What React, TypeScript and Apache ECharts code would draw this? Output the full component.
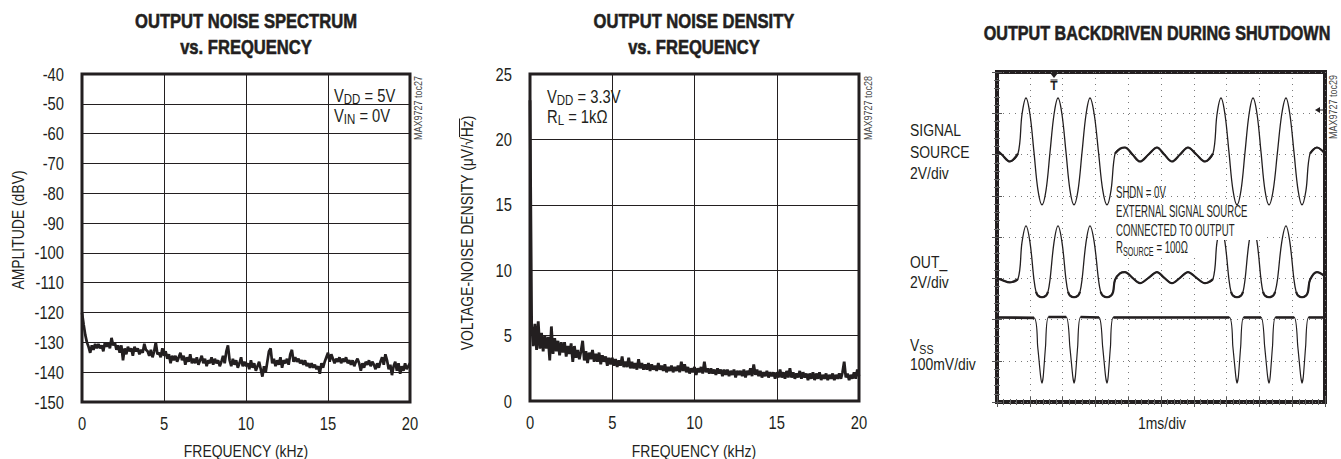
import React, { useEffect, useRef } from "react";
import * as echarts from "echarts";

const FONT = "'Liberation Sans Narrow', 'Arial Narrow', 'Liberation Sans', Arial, sans-serif";
const INK = "#231f20";
const NARROW = 0.82; // horizontal squeeze to imitate a narrow typeface

// ---------- Panel 1: output noise spectrum (dBV vs kHz), 0.1 kHz steps ----------
const spectrumStepKHz = 0.1;
const spectrumDbv = [
  -120, -124, -127.5, -130, -131.5, -133.5, -131, -132.5, -130.5, -132,
  -130.5, -132, -131, -133, -130, -131.5, -130, -132, -128.5, -131,
  -130, -132.5, -131, -133.5, -131, -136, -132, -134, -131.5, -133,
  -132, -134.5, -131.5, -133, -132, -134, -132.5, -133.5, -130.5, -132.5,
  -133, -134.5, -132.5, -135, -133, -130, -134, -133.5, -135, -132,
  -134.5, -133, -135.5, -134, -137, -134.5, -136, -134.5, -136.5, -135,
  -133.5, -136, -134.5, -137.5, -135, -136.5, -134, -137, -135.5, -137,
  -135, -137.5, -136, -134.5, -137, -135.5, -138, -136, -137, -135,
  -137.5, -135.5, -137, -136, -138, -136.5, -134.5, -137, -133, -131,
  -136, -138, -135.5, -137.5, -136, -138.5, -137, -135, -138, -136.5,
  -138, -137, -139, -136, -138.5, -137, -139.5, -138, -136.5, -139,
  -141.5, -138, -140, -136.5, -133, -132, -137, -135.5, -138, -136,
  -137.5, -135, -138.5, -136, -137, -135.5, -137.5, -134, -132.5, -136.5,
  -135, -136.5, -135.5, -137, -136, -137.5, -136, -138, -137, -138.5,
  -137, -138.5, -137.5, -139, -138, -140.5, -137, -138.5, -136.5, -135,
  -133.5, -136.5, -134, -135.5, -137, -135.5, -136.5, -135, -137, -135.5,
  -136.5, -135, -137, -136, -137.5, -136, -138, -136.5, -135.5, -137,
  -139.5, -137, -138.5, -136.5, -137.5, -136, -138, -136.5, -137.5, -139,
  -137, -138.5, -136.5, -135, -137.5, -134, -136, -139, -137.5, -141,
  -138, -136.5, -139.5, -137, -140.5, -138, -139.5, -137, -139, -138,
  -137,
];
const spectrumTicksDbv = [-150, -140, -130, -120, -110, -100, -90, -80, -70, -60, -50, -40];

// ---------- Panel 2: output noise density (uV/rtHz vs kHz), 0.1 kHz steps ----------
const densityStepKHz = 0.1;
const densityUv = [
  23, 5.8, 4.2, 5.9, 3.9, 6.1, 4.0, 5.2, 3.8, 5.0,
  4.0, 4.9, 3.1, 5.7, 3.6, 4.8, 3.8, 4.6, 3.5, 4.5,
  3.7, 4.5, 3.4, 4.2, 3.6, 4.4, 3.0, 4.2, 3.3, 3.9,
  3.2, 3.8, 4.6, 3.1, 3.8, 2.9, 3.7, 3.2, 3.9, 3.0,
  3.6, 3.0, 3.7, 2.8, 3.5, 3.0, 3.4, 2.7, 3.3, 2.8,
  3.3, 2.7, 3.2, 2.6, 3.1, 2.7, 3.4, 2.6, 3.0, 2.6,
  3.3, 2.5, 3.0, 2.5, 2.9, 2.4, 3.2, 2.5, 2.9, 2.4,
  2.8, 2.4, 2.9, 2.3, 2.8, 2.4, 2.7, 2.3, 2.9, 2.4,
  2.7, 2.3, 2.8, 2.2, 2.6, 2.3, 2.7, 2.2, 2.6, 2.3,
  2.7, 2.2, 3.0, 2.3, 2.8, 2.2, 2.6, 2.1, 2.5, 2.2,
  2.6, 2.0, 2.5, 2.2, 2.6, 2.1, 3.0, 2.2, 2.5, 2.1,
  2.5, 2.1, 2.4, 2.0, 2.5, 2.1, 2.4, 1.9, 2.4, 2.0,
  2.4, 1.9, 2.3, 2.0, 2.4, 1.8, 2.3, 2.0, 2.3, 1.9,
  2.4, 1.8, 2.3, 2.0, 2.5, 1.9, 2.8, 2.0, 2.4, 1.9,
  2.3, 1.8, 2.2, 1.9, 2.3, 1.8, 2.2, 1.9, 2.2, 1.7,
  2.2, 1.8, 2.4, 1.8, 2.2, 1.7, 2.3, 1.8, 2.5, 1.8,
  2.2, 1.7, 2.1, 1.8, 2.3, 1.7, 2.2, 1.8, 2.1, 1.6,
  2.1, 1.7, 2.2, 1.6, 2.1, 1.7, 2.2, 1.6, 2.0, 1.7,
  2.1, 1.6, 2.0, 1.7, 2.1, 1.6, 2.0, 1.7, 2.1, 1.7,
  2.2, 3.0, 1.8, 2.1, 1.6, 2.0, 1.7, 2.2, 1.7, 2.4,
  1.9,
];
const densityTicksUv = [0, 5, 10, 15, 20, 25];

const freqTicksKHz = [0, 5, 10, 15, 20];

// ---------- Panel 3: scope traces, [time (ms = div), level (div from bottom)] ----------
const signalSource: [number, number][] = [
  [0, 6.1], [0.145, 6.0], [0.39, 5.83], [0.64, 6.02],
  [0.762, 6.97], [0.884, 7.37], [1.006, 6.97], [1.128, 6.05], [1.25, 5.13], [1.372, 4.78], [1.494, 5.13],
  [1.616, 6.05], [1.738, 6.97], [1.86, 7.37], [1.982, 6.97], [2.104, 6.05], [2.226, 5.13], [2.348, 4.78], [2.47, 5.13],
  [2.592, 6.05], [2.714, 6.97], [2.835, 7.37], [2.965, 6.97], [3.095, 6.05], [3.225, 5.13], [3.354, 4.78], [3.476, 5.13],
  [3.598, 6.02], [3.75, 6.14], [3.902, 6.17], [4.13, 6.0], [4.36, 5.83], [4.62, 6.0], [4.878, 6.17], [5.1, 6.0],
  [5.335, 5.83], [5.58, 6.0], [5.823, 6.17], [6.08, 6.0], [6.341, 5.83], [6.585, 6.02],
  [6.707, 6.97], [6.829, 7.37], [6.951, 6.97], [7.073, 6.05], [7.195, 5.13], [7.317, 4.78], [7.439, 5.13],
  [7.561, 6.05], [7.683, 6.97], [7.805, 7.37], [7.93, 6.97], [8.05, 6.05], [8.17, 5.13], [8.293, 4.78], [8.42, 5.13],
  [8.55, 6.05], [8.68, 6.97], [8.811, 7.37], [8.93, 6.97], [9.055, 6.05], [9.18, 5.13], [9.299, 4.78], [9.42, 5.13],
  [9.543, 6.02], [9.756, 6.17], [10, 6.02],
];
const outTrace: [number, number][] = [
  [0, 3.0], [0.145, 2.96], [0.39, 2.9], [0.64, 2.98],
  [0.762, 3.87], [0.884, 4.27], [1.006, 3.87], [1.128, 2.96], [1.19, 2.67], [1.25, 2.58], [1.372, 2.54], [1.494, 2.58], [1.554, 2.67],
  [1.616, 2.96], [1.738, 3.87], [1.86, 4.27], [1.982, 3.87], [2.104, 2.96], [2.166, 2.67], [2.226, 2.58], [2.348, 2.54], [2.47, 2.58], [2.53, 2.67],
  [2.592, 2.96], [2.714, 3.87], [2.835, 4.27], [2.965, 3.87], [3.095, 2.96], [3.16, 2.67], [3.225, 2.58], [3.354, 2.54], [3.476, 2.58], [3.54, 2.67],
  [3.598, 2.96], [3.75, 3.12], [3.902, 3.15], [4.13, 3.01], [4.36, 2.88], [4.62, 3.01], [4.878, 3.15], [5.1, 3.01],
  [5.335, 2.88], [5.58, 3.01], [5.823, 3.15], [6.08, 3.01], [6.341, 2.88], [6.585, 2.98],
  [6.707, 3.87], [6.829, 4.27], [6.951, 3.87], [7.073, 2.96], [7.135, 2.67], [7.195, 2.58], [7.317, 2.54], [7.439, 2.58], [7.5, 2.67],
  [7.561, 2.96], [7.683, 3.87], [7.805, 4.27], [7.93, 3.87], [8.05, 2.96], [8.11, 2.67], [8.17, 2.58], [8.293, 2.54], [8.42, 2.58], [8.48, 2.67],
  [8.55, 2.96], [8.68, 3.87], [8.811, 4.27], [8.93, 3.87], [9.055, 2.96], [9.12, 2.67], [9.18, 2.58], [9.299, 2.54], [9.42, 2.58], [9.48, 2.67],
  [9.543, 2.96], [9.756, 3.15], [10, 3.05],
];
const vssTrace: [number, number][] = [
  [0, 2.05], [1.13, 2.04], [1.24, 1.35], [1.33, 0.62], [1.372, 0.46], [1.41, 0.62], [1.48, 1.35], [1.57, 2.06],
  [2.11, 2.06], [2.22, 1.35], [2.31, 0.62], [2.348, 0.46], [2.39, 0.62], [2.46, 1.35], [2.55, 2.06],
  [3.11, 2.05], [3.22, 1.35], [3.31, 0.62], [3.354, 0.46], [3.39, 0.62], [3.46, 1.35], [3.55, 2.05],
  [7.08, 2.05], [7.19, 1.35], [7.28, 0.62], [7.317, 0.46], [7.36, 0.62], [7.43, 1.35], [7.52, 2.05],
  [8.05, 2.05], [8.16, 1.35], [8.25, 0.62], [8.293, 0.46], [8.33, 0.62], [8.4, 1.35], [8.49, 2.05],
  [9.06, 2.05], [9.17, 1.35], [9.26, 0.62], [9.299, 0.46], [9.34, 0.62], [9.41, 1.35], [9.5, 2.05],
  [10, 2.05],
];
// spans (ms) where each trace is drawn as a thicker, noisy band
const sourceNoisySpans: [number, number][] = [[0, 0.64], [3.598, 6.585], [9.543, 10]];
const outNoisySpans: [number, number][] = [
  [0, 0.64], [1.19, 1.554], [2.166, 2.53], [3.16, 3.54], [3.598, 6.585],
  [7.135, 7.5], [8.11, 8.48], [9.12, 9.48], [9.543, 10],
];
const vssNoisySpans: [number, number][] = [
  [0, 1.13], [1.57, 2.11], [2.55, 3.11], [3.55, 7.08], [7.52, 8.05], [8.49, 9.06], [9.5, 10],
];

function withinSpans(data: [number, number][], spans: [number, number][]) {
  return data.map(([t, v]) =>
    spans.some(([a, b]) => t >= a - 1e-9 && t <= b + 1e-9) ? [t, v] : [t, "-"]
  );
}

function txt(x: number, y: number, text: string, size: number, extra: any = {}) {
  const { align = "left", vAlign = "middle", weight = "normal", fill = INK, scaleX = NARROW, stroke, ...rest } = extra;
  const style: any = {
    text,
    fill,
    font: `${weight} ${size}px ${FONT}`,
    textAlign: align,
    textVerticalAlign: vAlign,
  };
  if (stroke) {
    style.stroke = INK;
    style.lineWidth = stroke;
  }
  return { type: "text", x, y, z: 100, scaleX, ...rest, style };
}

function subText(x: number, y: number, text: string, size: number, subSize: number, extra: any = {}) {
  const { scaleX = NARROW, drop = 9, ...rest } = extra;
  return {
    type: "text",
    x,
    y,
    z: 100,
    scaleX,
    ...rest,
    style: {
      text,
      fill: INK,
      font: `${size}px ${FONT}`,
      textAlign: "left",
      textVerticalAlign: "middle",
      rich: {
        a: { fontSize: size, fontFamily: FONT, fill: INK, lineHeight: size + 2 },
        s: { fontSize: subSize, fontFamily: FONT, fill: INK, lineHeight: subSize, padding: [drop, 0, 0, 0] },
      },
    },
  };
}

export default function App() {
  const ref = useRef<HTMLDivElement>(null);

  useEffect(() => {
    if (!ref.current) return;
    const chart = echarts.init(ref.current, undefined, { renderer: "svg" });

    const spectrumData = spectrumDbv.map((v, i) => [+(i * spectrumStepKHz).toFixed(2), v]);
    const densityData = densityUv.map((v, i) => [+(i * densityStepKHz).toFixed(2), v]);

    const solidSplit = { show: true, lineStyle: { color: INK, width: 1 } };
    const freqAxis = (gridIndex: number) => ({
      type: "value",
      gridIndex,
      min: freqTicksKHz[0],
      max: freqTicksKHz[freqTicksKHz.length - 1],
      interval: freqTicksKHz[1] - freqTicksKHz[0],
      axisLine: { show: false },
      axisTick: { show: false },
      splitLine: solidSplit,
      axisLabel: { show: false },
    });
    const scopeSplit = { show: true, lineStyle: { color: "#7a7a7a", width: 1, type: [1, 5] } };
    const scopeAxisCommon = {
      type: "value",
      gridIndex: 2,
      axisLine: { show: false },
      axisLabel: { show: false },
      axisTick: { show: true, inside: true, length: 5, lineStyle: { color: "#555" } },
      minorTick: { show: true, splitNumber: 5, length: 3, lineStyle: { color: "#666" } },
    };

    const lineSeries = (xi: number, yi: number, data: any[], width: number, smooth: any = false) => ({
      type: "line",
      xAxisIndex: xi,
      yAxisIndex: yi,
      data,
      symbol: "none",
      showSymbol: false,
      smooth,
      silent: true,
      connectNulls: false,
      lineStyle: { color: INK, width },
    });

    chart.setOption({
      animation: false,
      backgroundColor: "#fff",
      textStyle: { fontFamily: FONT, color: INK },
      grid: [
        { left: 82, top: 74, width: 328, height: 328, show: true, borderColor: INK, borderWidth: 3, backgroundColor: "transparent" },
        { left: 530, top: 74, width: 329, height: 327, show: true, borderColor: INK, borderWidth: 3, backgroundColor: "transparent" },
        { left: 997, top: 72, width: 328, height: 330, show: true, borderColor: INK, borderWidth: 4, backgroundColor: "transparent" },
      ],
      xAxis: [
        freqAxis(0),
        freqAxis(1),
        { ...scopeAxisCommon, min: 0, max: 10, interval: 1, position: "bottom", splitLine: scopeSplit },
        { ...scopeAxisCommon, min: 0, max: 10, interval: 1, position: "top", splitLine: { show: false } },
      ],
      yAxis: [
        {
          type: "value", gridIndex: 0,
          min: spectrumTicksDbv[0], max: spectrumTicksDbv[spectrumTicksDbv.length - 1],
          interval: spectrumTicksDbv[1] - spectrumTicksDbv[0],
          axisLine: { show: false }, axisTick: { show: false }, splitLine: solidSplit,
          axisLabel: { show: false },
        },
        {
          type: "value", gridIndex: 1,
          min: densityTicksUv[0], max: densityTicksUv[densityTicksUv.length - 1],
          interval: densityTicksUv[1] - densityTicksUv[0],
          axisLine: { show: false }, axisTick: { show: false }, splitLine: solidSplit,
          axisLabel: { show: false },
        },
        { ...scopeAxisCommon, min: 0, max: 8, interval: 1, position: "left", splitLine: scopeSplit },
        { ...scopeAxisCommon, min: 0, max: 8, interval: 1, position: "right", splitLine: { show: false } },
      ],
      series: [
        lineSeries(0, 0, spectrumData, 2.7),
        lineSeries(1, 1, densityData, 2.8),
        lineSeries(2, 2, signalSource, 1.3, 0.35),
        lineSeries(2, 2, withinSpans(signalSource, sourceNoisySpans), 2.2, 0.35),
        lineSeries(2, 2, outTrace, 1.3, 0.35),
        lineSeries(2, 2, withinSpans(outTrace, outNoisySpans), 2.2, 0.35),
        lineSeries(2, 2, vssTrace, 1.2, 0.2),
        lineSeries(2, 2, withinSpans(vssTrace, vssNoisySpans), 2.6, false),
      ],
    });

    // tick labels placed through the library's own scales, in a squeezed (narrow) face
    const tickSize = 18;
    const tickLabels: any[] = [];
    const addTicks = (gridIndex: number, xTicks: number[], yTicks: number[]) => {
      xTicks.forEach((v) => {
        const [px, py] = chart.convertToPixel({ gridIndex }, [v, yTicks[0]]) as number[];
        tickLabels.push(txt(px, py + 21, String(v), tickSize, { align: "center" }));
      });
      yTicks.forEach((v) => {
        const [px, py] = chart.convertToPixel({ gridIndex }, [xTicks[0], v]) as number[];
        tickLabels.push(txt(px - 18, py, String(v), tickSize, { align: "right" }));
      });
    };
    addTicks(0, freqTicksKHz, spectrumTicksDbv);
    addTicks(1, freqTicksKHz, densityTicksUv);

    const titleOpts = { align: "center", weight: "bold", scaleX: 0.79, stroke: 0.6 };

    const graphic: any[] = [
      ...tickLabels,
      // titles
      txt(246, 21, "OUTPUT NOISE SPECTRUM", 21, titleOpts),
      txt(246, 47, "vs. FREQUENCY", 21, titleOpts),
      txt(694, 21, "OUTPUT NOISE DENSITY", 21, titleOpts),
      txt(694, 47, "vs. FREQUENCY", 21, titleOpts),
      txt(1157, 33, "OUTPUT BACKDRIVEN DURING SHUTDOWN", 21, { ...titleOpts, scaleX: 0.77 }),
      // axis names
      txt(246, 451, "FREQUENCY (kHz)", 17, { align: "center" }),
      txt(694, 451, "FREQUENCY (kHz)", 17, { align: "center" }),
      txt(18, 230, "AMPLITUDE (dBV)", 17, { align: "center", rotation: Math.PI / 2 }),
      txt(467, 233, "VOLTAGE-NOISE DENSITY (\u03bcV/\u221aHz)", 17, { align: "center", rotation: Math.PI / 2 }),
      { type: "line", z: 100, shape: { x1: 459.5, y1: 118.5, x2: 459.5, y2: 137 }, style: { stroke: INK, lineWidth: 1 } },
      // document ids
      txt(418, 108, "MAX9727 toc27", 11, { align: "center", rotation: Math.PI / 2, fill: "#444" }),
      txt(868, 108, "MAX9727 toc28", 11, { align: "center", rotation: Math.PI / 2, fill: "#444" }),
      txt(1333, 107, "MAX9727 toc29", 11, { align: "center", rotation: Math.PI / 2, fill: "#444" }),
      // panel annotations
      subText(334, 95, "{a|V}{s|DD}{a| = 5V}", 18, 14),
      subText(334, 115, "{a|V}{s|IN}{a| = 0V}", 18, 14),
      subText(547, 96, "{a|V}{s|DD}{a| = 3.3V}", 18, 14),
      subText(547, 116, "{a|R}{s|L}{a| = 1k\u03a9}", 18, 14),
      // scope side labels
      txt(910, 130, "SIGNAL", 17),
      txt(910, 152, "SOURCE", 17),
      txt(910, 173, "2V/div", 17),
      txt(910, 262, "OUT_", 17),
      txt(910, 282, "2V/div", 17),
      subText(910, 345, "{a|V}{s|SS}", 17, 13),
      txt(910, 364, "100mV/div", 17),
      txt(1162, 423, "1ms/div", 17, { align: "center" }),
      // scope inner annotation
      { type: "rect", z: 90, shape: { x: 1112, y: 207, width: 150, height: 33 }, style: { fill: "#fff" } },
      { type: "rect", z: 90, shape: { x: 1112, y: 240, width: 88, height: 17 }, style: { fill: "#fff" } },
      txt(1116, 193, "SHDN = 0V", 16, { scaleX: 0.6 }),
      txt(1116, 212, "EXTERNAL SIGNAL SOURCE", 16, { scaleX: 0.6 }),
      txt(1116, 231, "CONNECTED TO OUTPUT", 16, { scaleX: 0.6 }),
      subText(1116, 248, "{a|R}{s|SOURCE}{a| = 100\u03a9}", 16, 12, { scaleX: 0.6, drop: 8 }),
      // trigger markers
      { type: "polygon", z: 100, shape: { points: [[1050, 73], [1058, 73], [1054, 78]] }, style: { fill: INK } },
      txt(1054, 86, "T", 12, { align: "center", weight: "bold", scaleX: 1 }),
      { type: "line", z: 100, shape: { x1: 1050.5, y1: 80, x2: 1057.5, y2: 80 }, style: { stroke: INK, lineWidth: 1 } },
      { type: "polygon", z: 100, shape: { points: [[1315, 110], [1320, 107], [1320, 113]] }, style: { fill: INK } },
      { type: "line", z: 100, shape: { x1: 1319, y1: 110, x2: 1323, y2: 110 }, style: { stroke: INK, lineWidth: 1 } },
    ];

    chart.setOption({ graphic });

    return () => chart.dispose();
  }, []);

  return (
    <div
      ref={ref}
      style={{ position: "fixed", left: 0, top: 0, width: 1341, height: 459, background: "#fff" }}
    />
  );
}
